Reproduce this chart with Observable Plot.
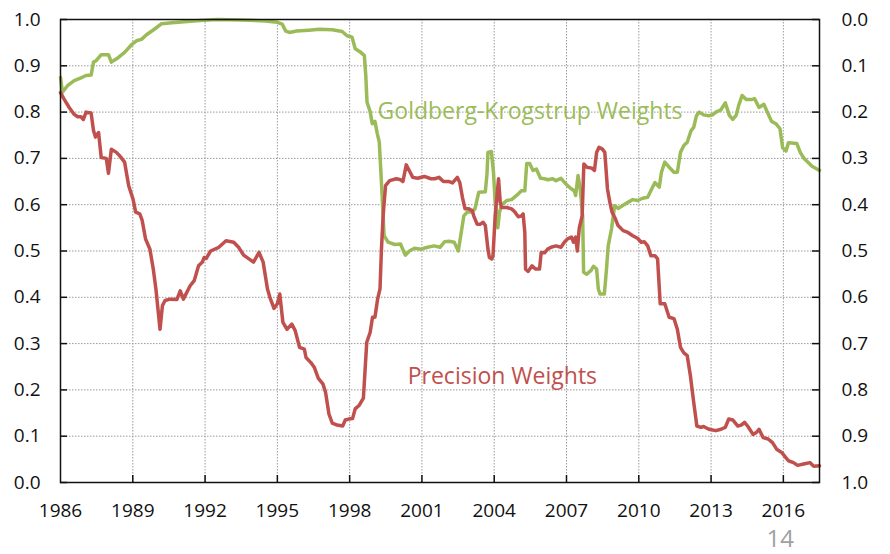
<!DOCTYPE html>
<html>
<head>
<meta charset="utf-8">
<script src="https://cdn.jsdelivr.net/npm/d3@7"></script>
<script src="https://cdn.jsdelivr.net/npm/@observablehq/plot@0.6"></script>
<style>
  html, body { margin: 0; padding: 0; background: #fff; }
  #chart svg { display: block; }
</style>
</head>
<body>
<div id="chart"></div>
<script>
const redYears = [1986.00,1986.15,1986.36,1986.57,1986.71,1986.85,1986.95,1987.06,1987.27,1987.37,1987.45,1987.58,1987.69,1987.90,1987.99,1988.11,1988.32,1988.45,1988.66,1988.83,1989.01,1989.12,1989.29,1989.39,1989.53,1989.71,1989.85,1989.96,1990.13,1990.23,1990.34,1990.55,1990.83,1990.97,1991.10,1991.38,1991.55,1991.73,1991.89,1991.96,1992.05,1992.23,1992.57,1992.87,1993.19,1993.39,1993.60,1994.01,1994.24,1994.41,1994.59,1994.69,1994.86,1995.00,1995.10,1995.23,1995.40,1995.60,1995.74,1995.92,1996.12,1996.19,1996.39,1996.53,1996.70,1996.89,1997.00,1997.14,1997.28,1997.48,1997.71,1997.82,1997.96,1998.12,1998.23,1998.40,1998.57,1998.71,1998.85,1998.95,1999.05,1999.16,1999.26,1999.32,1999.39,1999.49,1999.66,1999.94,2000.11,2000.21,2000.35,2000.44,2000.62,2000.82,2001.10,2001.37,2001.53,2001.71,2001.89,2002.13,2002.27,2002.47,2002.57,2002.68,2002.79,2002.95,2003.09,2003.15,2003.29,2003.43,2003.54,2003.63,2003.74,2003.80,2003.90,2003.95,2004.04,2004.11,2004.18,2004.25,2004.31,2004.52,2004.72,2004.86,2005.00,2005.13,2005.20,2005.27,2005.30,2005.41,2005.57,2005.71,2005.88,2005.95,2006.09,2006.22,2006.36,2006.56,2006.77,2006.91,2007.04,2007.21,2007.29,2007.38,2007.45,2007.53,2007.65,2007.72,2007.84,2008.05,2008.16,2008.25,2008.35,2008.49,2008.59,2008.70,2008.80,2008.89,2009.00,2009.14,2009.35,2009.55,2009.75,2009.96,2010.10,2010.23,2010.37,2010.50,2010.67,2010.78,2010.89,2011.08,2011.26,2011.46,2011.60,2011.73,2011.87,2012.01,2012.14,2012.28,2012.41,2012.58,2012.69,2012.91,2013.20,2013.41,2013.59,2013.73,2013.90,2014.11,2014.25,2014.39,2014.53,2014.74,2014.88,2014.99,2015.16,2015.37,2015.55,2015.72,2015.93,2016.07,2016.21,2016.42,2016.59,2016.84,2017.10,2017.26,2017.50];
const redValues = [0.842,0.828,0.81,0.795,0.79,0.79,0.784,0.80,0.798,0.76,0.746,0.756,0.702,0.70,0.668,0.72,0.713,0.706,0.692,0.641,0.612,0.584,0.58,0.566,0.526,0.504,0.461,0.418,0.331,0.382,0.393,0.396,0.395,0.414,0.396,0.425,0.436,0.468,0.476,0.486,0.484,0.50,0.508,0.522,0.519,0.508,0.491,0.476,0.497,0.476,0.418,0.40,0.376,0.386,0.407,0.346,0.331,0.342,0.328,0.292,0.288,0.27,0.259,0.249,0.225,0.213,0.195,0.148,0.128,0.124,0.122,0.135,0.137,0.138,0.159,0.167,0.182,0.303,0.324,0.357,0.357,0.396,0.418,0.504,0.576,0.641,0.652,0.656,0.654,0.65,0.686,0.677,0.659,0.657,0.661,0.656,0.656,0.659,0.65,0.65,0.647,0.659,0.648,0.616,0.591,0.591,0.587,0.576,0.558,0.558,0.562,0.555,0.504,0.486,0.483,0.49,0.576,0.616,0.656,0.605,0.594,0.594,0.591,0.584,0.574,0.576,0.58,0.54,0.461,0.456,0.468,0.461,0.461,0.497,0.496,0.504,0.508,0.511,0.508,0.519,0.526,0.53,0.519,0.53,0.50,0.55,0.576,0.688,0.681,0.679,0.674,0.713,0.724,0.72,0.713,0.634,0.605,0.584,0.573,0.555,0.544,0.54,0.533,0.527,0.519,0.52,0.511,0.49,0.49,0.483,0.386,0.386,0.357,0.354,0.331,0.292,0.28,0.274,0.231,0.173,0.122,0.119,0.121,0.115,0.112,0.115,0.119,0.137,0.135,0.122,0.124,0.13,0.121,0.104,0.108,0.115,0.097,0.094,0.086,0.072,0.065,0.056,0.047,0.043,0.037,0.04,0.043,0.035,0.036];

const greenYears = [1986.00,1986.08,1986.29,1986.57,1986.85,1987.06,1987.27,1987.37,1987.48,1987.69,1987.99,1988.11,1988.38,1988.66,1988.94,1989.15,1989.36,1989.57,1989.92,1990.20,1990.62,1991.40,1991.80,1992.50,1993.50,1994.50,1995.00,1995.20,1995.35,1995.50,1995.80,1996.30,1996.75,1997.28,1997.69,1997.89,1998.10,1998.23,1998.44,1998.61,1998.67,1998.72,1998.85,1998.94,1999.05,1999.15,1999.23,1999.32,1999.43,1999.60,1999.87,2000.11,2000.31,2000.48,2000.69,2000.96,2001.23,2001.51,2001.75,2001.94,2002.13,2002.34,2002.51,2002.61,2002.74,2002.88,2003.06,2003.20,2003.36,2003.63,2003.70,2003.74,2003.88,2003.97,2004.04,2004.15,2004.22,2004.31,2004.52,2004.72,2004.93,2005.13,2005.27,2005.35,2005.47,2005.61,2005.75,2005.81,2005.92,2006.09,2006.22,2006.43,2006.56,2006.77,2006.97,2007.18,2007.32,2007.38,2007.48,2007.57,2007.67,2007.71,2007.84,2008.02,2008.12,2008.25,2008.32,2008.39,2008.57,2008.66,2008.73,2008.87,2008.94,2009.00,2009.14,2009.35,2009.55,2009.75,2009.96,2010.16,2010.37,2010.50,2010.67,2010.85,2010.94,2011.08,2011.26,2011.46,2011.60,2011.73,2011.87,2012.01,2012.17,2012.28,2012.39,2012.51,2012.69,2012.91,2013.06,2013.20,2013.41,2013.59,2013.76,2013.90,2014.04,2014.15,2014.29,2014.46,2014.67,2014.81,2014.99,2015.19,2015.37,2015.51,2015.69,2015.86,2015.97,2016.11,2016.21,2016.56,2016.70,2016.87,2017.01,2017.19,2017.50];
const greenValues = [0.875,0.843,0.857,0.868,0.874,0.879,0.88,0.908,0.911,0.924,0.924,0.908,0.917,0.929,0.945,0.954,0.957,0.967,0.98,0.991,0.993,0.996,0.998,1.0,0.999,0.997,0.994,0.99,0.975,0.972,0.975,0.977,0.979,0.978,0.974,0.965,0.962,0.937,0.93,0.922,0.879,0.822,0.801,0.775,0.78,0.753,0.735,0.648,0.533,0.519,0.514,0.515,0.491,0.50,0.506,0.504,0.508,0.511,0.508,0.52,0.521,0.519,0.50,0.533,0.576,0.584,0.584,0.591,0.627,0.628,0.666,0.713,0.715,0.67,0.605,0.55,0.584,0.60,0.609,0.611,0.62,0.63,0.63,0.689,0.689,0.674,0.677,0.67,0.657,0.656,0.654,0.656,0.652,0.657,0.645,0.635,0.63,0.62,0.663,0.634,0.576,0.454,0.45,0.458,0.467,0.461,0.418,0.407,0.407,0.461,0.511,0.548,0.576,0.598,0.592,0.599,0.605,0.611,0.609,0.614,0.616,0.63,0.648,0.638,0.67,0.692,0.681,0.67,0.67,0.713,0.728,0.735,0.76,0.767,0.792,0.80,0.794,0.792,0.794,0.80,0.805,0.82,0.793,0.784,0.793,0.815,0.836,0.827,0.827,0.829,0.81,0.817,0.796,0.78,0.775,0.764,0.723,0.716,0.734,0.732,0.713,0.699,0.692,0.683,0.674];

const xTicks = [1986, 1989, 1992, 1995, 1998, 2001, 2004, 2007, 2010, 2013, 2016];
const yTicks = [0, 0.1, 0.2, 0.3, 0.4, 0.5, 0.6, 0.7, 0.8, 0.9, 1.0];
const seriesLabels = ["Goldberg-Krogstrup Weights", "Precision Weights"];
const pageNumber = ["14"];

const RED = "#C0504D", GREEN = "#9BBB59";
const red = redYears.map((x, i) => ({x, y: redValues[i]}));
const green = greenYears.map((x, i) => ({x, y: greenValues[i]}));
const X0 = 1986, X1 = 2017.5;
const tickLenX = 7 / 24.1;   // 7px in year units
const tickLenY = 7 / 463;    // 7px in value units

const chart = Plot.plot({
  width: 890,
  height: 554,
  marginLeft: 60,
  marginRight: 71,
  marginTop: 19,
  marginBottom: 72,
  style: {fontFamily: "'Open Sans', sans-serif", fontSize: "19px", color: "#111", background: "#fff"},
  x: {domain: [X0, X1]},
  y: {domain: [0, 1]},
  marks: [
    Plot.gridX(xTicks.slice(1), {stroke: "#9a9a9a", strokeOpacity: 1, strokeDasharray: "1.5,1.5", strokeWidth: 1}),
    Plot.gridY(yTicks.slice(1, -1), {stroke: "#9a9a9a", strokeOpacity: 1, strokeDasharray: "1.5,1.5", strokeWidth: 1}),
    Plot.ruleX(xTicks.slice(1), {y1: 0, y2: tickLenY, stroke: "#111", strokeWidth: 1.5}),
    Plot.ruleY(yTicks, {x1: X0, x2: X0 + tickLenX, stroke: "#111", strokeWidth: 1.5}),
    Plot.ruleY(yTicks, {x1: X1 - tickLenX, x2: X1, stroke: "#111", strokeWidth: 1.5}),
    Plot.axisX(xTicks, {tickSize: 0, tickPadding: 21, tickFormat: d => String(d), fontSize: 19, label: null}),
    Plot.axisY(yTicks, {anchor: "left", tickSize: 0, tickPadding: 20, tickFormat: d => d.toFixed(1), fontSize: 19, label: null}),
    Plot.axisY(yTicks, {anchor: "right", tickSize: 0, tickPadding: 22, tickFormat: d => (1 - d).toFixed(1), fontSize: 19, label: null}),
    Plot.line(green, {x: "x", y: "y", stroke: GREEN, strokeWidth: 3.5, strokeLinejoin: "round"}),
    Plot.line(red, {x: "x", y: "y", stroke: RED, strokeWidth: 3.5, strokeLinejoin: "round"}),
    Plot.text([seriesLabels[0]], {x: 1999.16, y: 0.80, text: d => d, textAnchor: "start", lineAnchor: "middle", fill: GREEN, fontSize: 23}),
    Plot.text([seriesLabels[1]], {x: 2000.41, y: 0.229, text: d => d, textAnchor: "start", lineAnchor: "middle", fill: RED, fontSize: 23}),
    Plot.text(pageNumber, {frameAnchor: "bottom-left", dx: 706, dy: 57, text: d => d, textAnchor: "start", lineAnchor: "middle", fill: "#a0a0a0", fontSize: 24}),
    Plot.frame({stroke: "#111", strokeWidth: 1.5})
  ]
});
document.getElementById("chart").appendChild(chart);
</script>
</body>
</html>
